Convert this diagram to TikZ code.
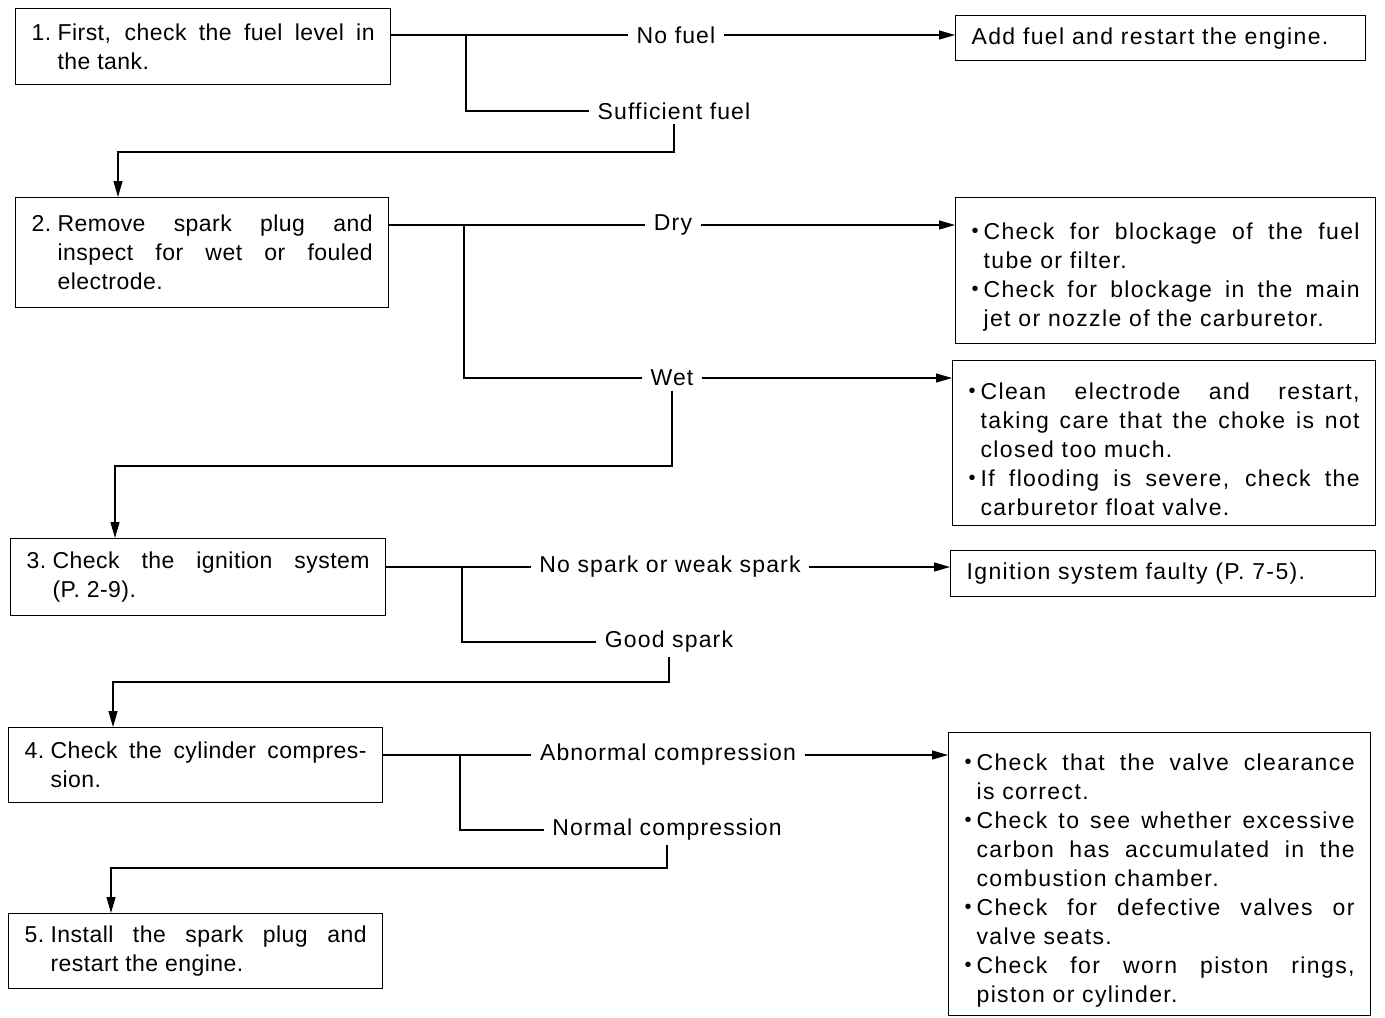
\documentclass[tikz,border=0pt]{standalone}
\usepackage{fontspec}
\setmainfont{Liberation Sans}
\newfontfamily\stepfont[LetterSpace=2]{Liberation Sans}
\newfontfamily\fixfont[LetterSpace=6]{Liberation Sans}
\newfontfamily\branchfont[LetterSpace=5]{Liberation Sans}
\usetikzlibrary{arrows.meta,positioning}
\newcommand\stepno[1]{\noindent\hangindent=13pt\hangafter=1\makebox[13pt][l]{#1}}
\newcommand\bitem{\par\noindent\hangindent=6pt\hangafter=1%
  \makebox[6pt][l]{\raisebox{.15ex}{\fontsize{10}{10}\selectfont\textbullet}}}
\tikzset{>={Triangle[length=8pt,width=4.5pt]},
         stepbox/.style={draw, rectangle, anchor=north west, inner xsep=8pt,
            inner ysep=3pt, align=justify, font=\stepfont\fontsize{11.5}{14.5}\selectfont},
         fixbox/.style={stepbox, font=\fixfont\fontsize{11.5}{14.5}\selectfont},
         branch/.style={inner xsep=4pt, inner ysep=2pt,
            font=\branchfont\fontsize{11.5}{14.5}\selectfont}}

\begin{document}
\begin{tikzpicture}[x=0.5pt, y=-0.5pt, line width=0.6pt]
   \useasboundingbox (0,0) rectangle (1385,1017);
   % steps on the left
   \node[stepbox, text width=171.5pt, minimum height=38pt] (check1) at (15,8)
     {\stepno{1.}First, check the fuel level in\linebreak the tank.\par};
   \node[stepbox, text width=170.5pt, minimum height=55pt] (check2) at (15,197)
     {\stepno{2.}Remove spark plug and\linebreak inspect for wet or fouled\linebreak electrode.\par};
   \node[stepbox, text width=171.5pt, minimum height=38.5pt] (check3) at (10,538)
     {\stepno{3.}Check the ignition system\linebreak (P. 2-9).\par};
   \node[stepbox, text width=171pt, minimum height=37.5pt] (check4) at (8,727)
     {\stepno{4.}Check the cylinder compres-\linebreak sion.\par};
   \node[stepbox, text width=171pt, minimum height=37.5pt] (check5) at (8,913)
     {\stepno{5.}Install the spark plug and\linebreak restart the engine.\par};
   % remedies on the right
   \node[fixbox, text width=189pt, minimum height=22.5pt] (addfuel) at (955,15)
     {Add fuel and restart the engine.\par};
   \node[fixbox, text width=194pt, minimum height=73pt] (drybox) at (955,197)
     {\bitem Check for blockage of the fuel\linebreak tube or filter.
      \bitem Check for blockage in the main\linebreak jet or nozzle of the carburetor.\par};
   \node[fixbox, text width=195.5pt, minimum height=82.5pt] (wetbox) at (952,360)
     {\bitem Clean electrode and restart,\linebreak taking care that the choke is not\linebreak closed too much.
      \bitem If flooding is severe, check the\linebreak carburetor float valve.\par};
   \node[fixbox, text width=196.5pt, minimum height=23pt] (faulty) at (950,550)
     {Ignition system faulty (P. 7-5).\par};
   \node[fixbox, text width=195pt, minimum height=141.5pt] (compbox) at (948,732)
     {\bitem Check that the valve clearance\linebreak is correct.
      \bitem Check to see whether excessive\linebreak carbon has accumulated in the\linebreak combustion chamber.
      \bitem Check for defective valves or\linebreak valve seats.
      \bitem Check for worn piston rings,\linebreak piston or cylinder.\par};
   % branch labels
   \node[branch] (nofuel) at (676,35) {No fuel};
   \node[branch] (sufficient) at (674,111) {Sufficient fuel};
   \node[branch] (dry) at (673,225) {Dry};
   \node[branch] (wet) at (672,378) {Wet};
   \node[branch] (nospark) at (670,567) {No spark or weak spark};
   \node[branch] (goodspark) at (669,642) {Good spark};
   \node[branch] (abnormal) at (668,755) {Abnormal compression};
   \node[branch] (normal) at (667,830) {Normal compression};
   % forks and turns
   \coordinate (fork1) at (466,35);
   \coordinate (turn1) at (118,152);
   \coordinate (fork2) at (464,225);
   \coordinate (turn2) at (115,466);
   \coordinate (fork3) at (462,567);
   \coordinate (turn3) at (113,682);
   \coordinate (fork4) at (460,755);
   \coordinate (turn4) at (111,868);

   \draw (check1.east |- nofuel) -- (nofuel);
   \draw[->] (nofuel) -- (nofuel -| addfuel.west);
   \draw (fork1) |- (sufficient);
   \draw[->] (sufficient) |- (turn1) -- (turn1 |- check2.north);

   \draw (check2.east |- dry) -- (dry);
   \draw[->] (dry) -- (dry -| drybox.west);
   \draw (fork2) |- (wet);
   \draw[->] (wet) -- (wet -| wetbox.west);
   \draw[->] (wet) |- (turn2) -- (turn2 |- check3.north);

   \draw (check3.east |- nospark) -- (nospark);
   \draw[->] (nospark) -- (nospark -| faulty.west);
   \draw (fork3) |- (goodspark);
   \draw[->] (goodspark) |- (turn3) -- (turn3 |- check4.north);

   \draw (check4.east |- abnormal) -- (abnormal);
   \draw[->] (abnormal) -- (abnormal -| compbox.west);
   \draw (fork4) |- (normal);
   \draw[->] (normal) |- (turn4) -- (turn4 |- check5.north);
\end{tikzpicture}
\end{document}
